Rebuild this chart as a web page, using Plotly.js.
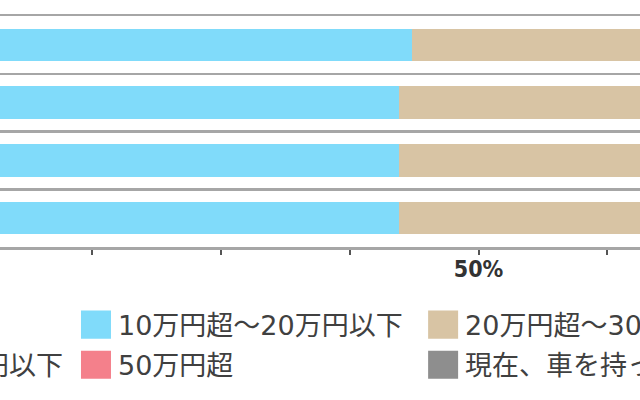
<!DOCTYPE html>
<html>
<head>
<meta charset="utf-8">
<script src="https://cdn.plot.ly/plotly-3.0.1.min.js"></script>
<style>
  html, body { margin: 0; padding: 0; background: #fff; }
  #chart { width: 640px; height: 400px; }
</style>
</head>
<body>
<div id="chart"></div>
<script>
// Rows (top to bottom) - labels sit off the visible area
const rows = ["全体", "20代", "30代", "40代"];

// Series names as shown in the legend
const seriesNames = [
    "10万円以下",
    "10万円超～20万円以下",
    "20万円超～30万円以下",
    "30万円超～50万円以下",
    "50万円超",
    "現在、車を持っていない"
];

// Percent values per series (one value per row)
const under10 = [9.5, 10.1, 9.8, 10.4];
const from10to20 = [35.3, 33.7, 34.0, 33.4];
const from20to30 = [24.6, 25.3, 24.9, 25.8];
const from30to50 = [12.1, 13.0, 12.4, 12.7];
const over50 = [5.2, 5.6, 5.0, 5.5];
const noCar = [13.3, 12.3, 13.9, 12.2];

const seriesValues = [under10, from10to20, from20to30, from30to50, over50, noCar];
const seriesColors = ["#5b9bd5", "#80dbfa", "#d8c4a4", "#9fd49a", "#f4808b", "#8e8e8e"];
// legend column each series goes to (3 columns, 2 rows)
const legendCols = ["legend", "legend2", "legend3", "legend", "legend2", "legend3"];

// Axis ticks
const tickVals = [0, 10, 20, 30, 40, 50, 60, 70, 80, 90, 100];
const tickText = ["0%", "", "", "", "", "50%", "", "", "", "", "100%"];

// Build stacked bar traces
let data = [];
for (let i = 0; i < seriesNames.length; i++) {
    data.push({
        type: "bar",
        orientation: "h",
        name: seriesNames[i],
        y: rows,
        x: seriesValues[i],
        marker: { color: seriesColors[i] },
        legend: legendCols[i],
        legendgroup: "g" + i,
        hoverinfo: "none"
    });
}

// wider digits from DejaVu, kana/kanji from Noto
const legendFont = { family: "DejaVu Sans, Noto Sans CJK JP", size: 27, color: "#404040" };
function legendAt(x) {
    return {
        x: x, xanchor: "left",
        y: -0.232, yanchor: "top",
        orientation: "v",
        traceorder: "grouped",
        tracegroupgap: 2,
        itemwidth: 34,
        font: legendFont,
        bgcolor: "rgba(0,0,0,0)"
    };
}

let layout = {
    width: 640,
    height: 400,
    margin: { l: 0, r: 0, t: 16, b: 153, autoexpand: false },
    paper_bgcolor: "#ffffff",
    plot_bgcolor: "#ffffff",
    barmode: "stack",
    bargap: 0.44,
    showlegend: true,
    xaxis: {
        range: [12.84, 62.54],
        tickvals: tickVals,
        ticktext: tickText,
        ticks: "outside",
        ticklen: 5,
        tickwidth: 2,
        tickcolor: "#555555",
        ticklabelstandoff: -5,
        showgrid: false,
        zeroline: false,
        showline: true,
        mirror: true,
        linecolor: "#a6a6a6",
        linewidth: 2.5,
        tickfont: {
            family: "Liberation Sans Narrow, DejaVu Sans Condensed, Liberation Sans, sans-serif",
            size: 23, color: "#333333", weight: "bold"
        },
        fixedrange: true
    },
    yaxis: {
        type: "category",
        autorange: "reversed",
        tickson: "boundaries",
        showgrid: true,
        gridcolor: "#a6a6a6",
        gridwidth: 2.5,
        showticklabels: false,
        ticks: "",
        fixedrange: true
    },
    legend: legendAt(-0.415),
    legend2: legendAt(0.1156),
    legend3: legendAt(0.658)
};

const chart = document.getElementById("chart");
Plotly.newPlot(chart, data, layout, { staticPlot: true }).then(function () {
    // enlarge the tiny legend squares to match the original
    chart.querySelectorAll(".legendpoints path").forEach(function (p) {
        const t = p.getAttribute("transform") || "";
        p.setAttribute("transform", t + " scale(2.5,2.35)");
    });
});
</script>
</body>
</html>
